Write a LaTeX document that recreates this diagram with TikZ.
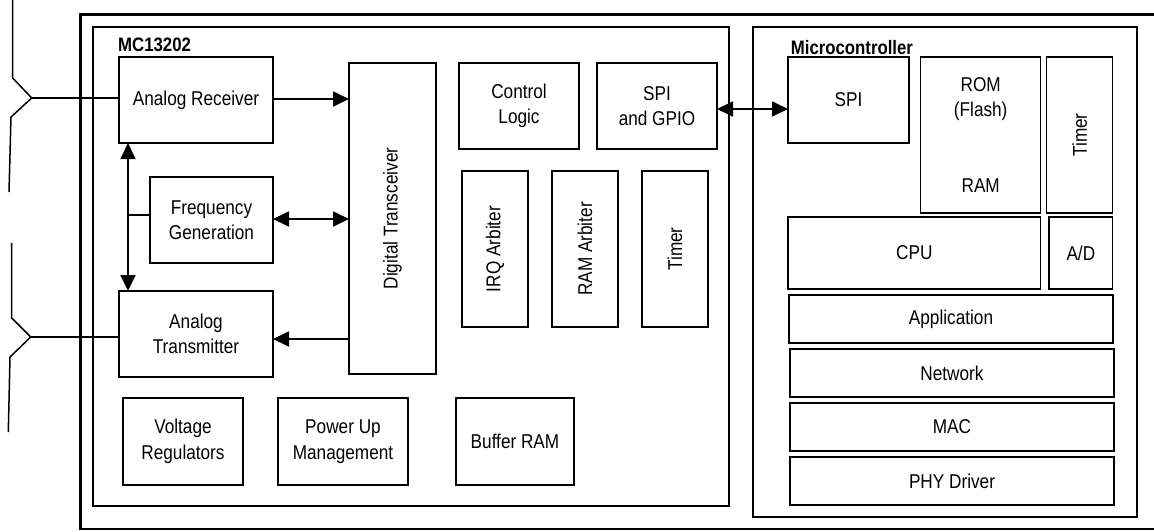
\documentclass[tikz,border=0pt]{standalone}
\usepackage{fontspec}
\setmainfont{Liberation Sans}[FakeStretch=0.86]
\usetikzlibrary{arrows.meta}
\begin{document}
\begin{tikzpicture}[x=1pt,y=-1pt,
  blk/.style={draw,line width=1.2pt,inner sep=0pt,outer sep=0pt,align=center,font=\fontsize{20}{25.5}\selectfont},
  txt/.style={inner sep=0pt,align=center,font=\fontsize{20}{25.5}\selectfont},
  arr/.style={line width=1.8pt,-{Triangle[length=16pt,width=15pt]}},
  dbl/.style={line width=1.8pt,{Triangle[length=16pt,width=15pt]}-{Triangle[length=16pt,width=15pt]}},
  wire/.style={line width=1.8pt},
  ttl/.style={font=\fontsize{19.5}{25}\selectfont\bfseries,inner sep=0pt,anchor=base west},
  frame/.style={draw,line width=2pt},
  outer/.style={draw,line width=2.6pt}]
\useasboundingbox (0,0) rectangle (1154,531);
\fill[white] (0,0) rectangle (1154,531);

% outer frames
\draw[outer] (1170,14.7) -- (80.7,14.7) -- (80.7,529) -- (1170,529);
\draw[frame] (92.7,27) rectangle (729,506);
\draw[frame] (752.7,27) rectangle (1136.7,517);
\node[ttl] (mclab) at (118,51) {MC13202};
\node[ttl] (uclab) at (790.7,54) {Microcontroller};

% MC13202 blocks
\node[blk,minimum width=154pt,minimum height=86pt] (ar) at (196,100) {Analog Receiver};
\node[blk,minimum width=123pt,minimum height=86pt] (fg) at (211.5,220) {Frequency\\Generation};
\node[blk,minimum width=154pt,minimum height=86pt] (at) at (196,334) {Analog\\Transmitter};
\node[blk,minimum width=87pt,minimum height=311pt] (dt) at (392.5,218.5) {};
\node[txt,rotate=90] (dtt) at (dt.center) {Digital Transceiver};
\node[blk,minimum width=120pt,minimum height=86pt] (cl) at (519,106) {Control\\Logic};
\node[blk,minimum width=120pt,minimum height=86pt] (sg) at (657,106) {SPI\\and GPIO};
\node[blk,minimum width=66pt,minimum height=156pt] (irq) at (495,249) {};
\node[txt,rotate=90] (irqt) at (irq.center) {IRQ Arbiter};
\node[blk,minimum width=66pt,minimum height=156pt] (rama) at (585,249) {};
\node[txt,rotate=90] (ramat) at (rama.center) {RAM Arbiter};
\node[blk,minimum width=66pt,minimum height=156pt] (tm1) at (675,249) {};
\node[txt,rotate=90] (tm1t) at (tm1.center) {Timer};
\node[blk,minimum width=120pt,minimum height=87pt] (vr) at (183,441.5) {Voltage\\Regulators};
\node[blk,minimum width=130pt,minimum height=87pt] (pum) at (343,441.5) {Power Up\\Management};
\node[blk,minimum width=118pt,minimum height=87pt] (br) at (515,441.5) {Buffer RAM};

% Microcontroller blocks
\node[blk,minimum width=121pt,minimum height=86pt] (spi) at (848.5,100) {SPI};
\node[blk,minimum width=120pt,minimum height=156pt] (rom) at (980.7,135) {ROM\\(Flash)\\[50pt]RAM};
\node[blk,minimum width=66pt,minimum height=156pt] (tm2) at (1079.7,135) {};
\node[txt,rotate=90] (tm2t) at (tm2.center) {Timer};
\node[blk,minimum width=252.7pt,minimum height=72pt] (cpu) at (914.35,253) {CPU};
\node[blk,minimum width=63.7pt,minimum height=72pt] (ad) at (1080.85,253) {A/D};
\node[blk,minimum width=324pt,minimum height=48pt] (app) at (951,319) {Application};
\node[blk,minimum width=324pt,minimum height=48pt] (net) at (952,373) {Network};
\node[blk,minimum width=324pt,minimum height=48pt] (mac) at (952,427) {MAC};
\node[blk,minimum width=324pt,minimum height=48pt] (phy) at (952,481) {PHY Driver};

% antennas
\coordinate (ant1) at (31.7,98);
\coordinate (ant2) at (30.7,337);
\draw[wire,line width=1.5pt] (12.7,0) -- (12.7,78) -- (ant1) -- (11,117) -- (9,192);
\draw[wire,line width=1.5pt] (11.7,243) -- (11.7,318) -- (ant2) -- (10,357) -- (8.3,432);
\draw[wire] (ant1) -- (ant1 -| ar.west);
\draw[wire] (ant2) -- (ant2 -| at.west);

% connectors
\draw[arr] (ar.east |- 0,99) -- (dt.west |- 0,99);
\draw[dbl] (fg.east |- 0,219) -- (dt.west |- 0,219);
\draw[arr] (dt.west |- 0,339) -- (at.east |- 0,339);
\coordinate (vx) at (128,215);
\draw[dbl] (ar.south -| vx) -- (at.north -| vx);
\draw[wire] (vx) -- (vx -| fg.west);
\draw[dbl] (sg.east |- 0,109) -- (spi.west |- 0,109);
\end{tikzpicture}
\end{document}
